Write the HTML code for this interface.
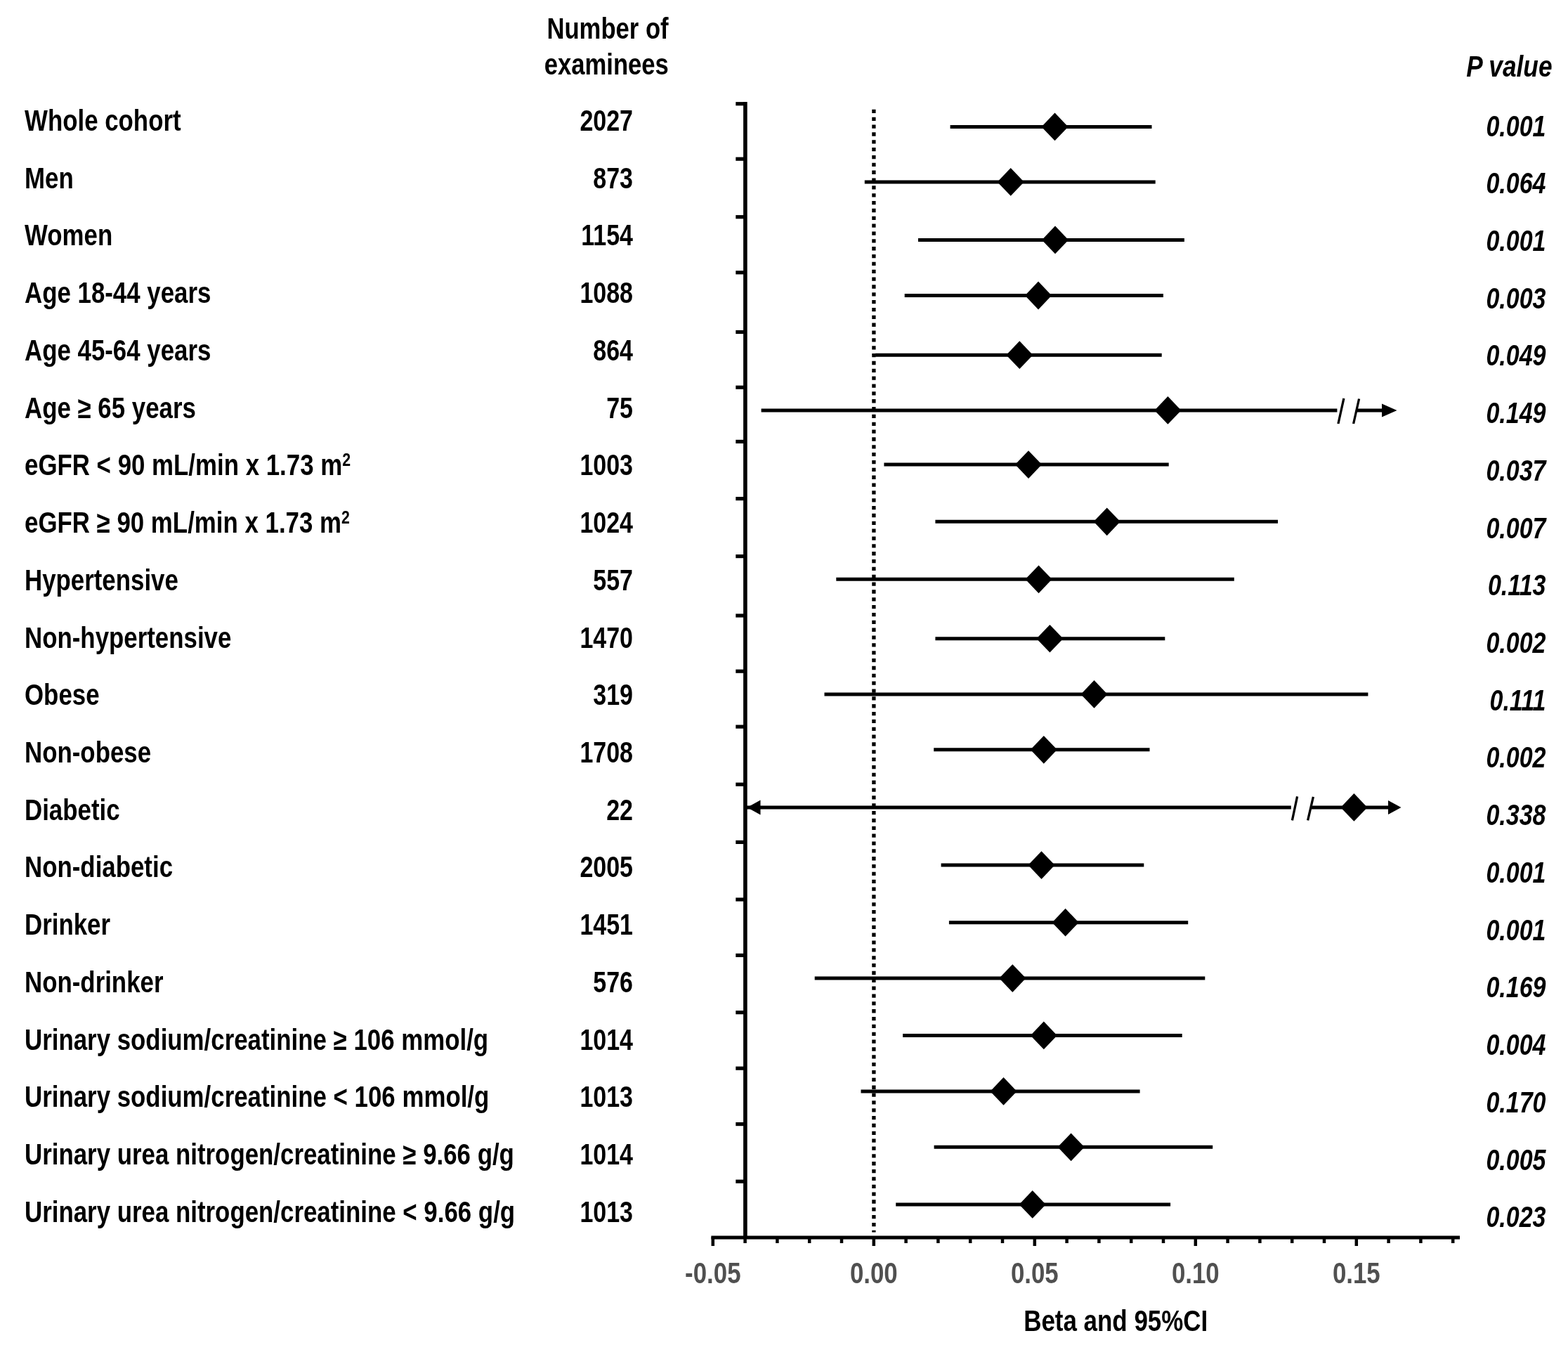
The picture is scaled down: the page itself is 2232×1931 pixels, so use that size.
<!DOCTYPE html><html><head><meta charset="utf-8"><style>html,body{margin:0;padding:0;background:#fff;}svg{display:block}</style></head><body>
<svg width="2232" height="1931" viewBox="0 0 2232 1931">
<rect width="2232" height="1931" fill="#fff"/>
<g font-family="Liberation Sans, Arial, sans-serif" font-weight="bold" font-size="42.5" fill="#000">
<text text-anchor="middle" transform="translate(865,54.5) scale(0.815,1)">Number of</text>
<text text-anchor="middle" transform="translate(863.3,106) scale(0.815,1)">examinees</text>
<text text-anchor="end" font-style="italic" transform="translate(2209.5,109) scale(0.83,1)">P value</text>
<text transform="translate(35.0,186.0) scale(0.82,1)">Whole cohort</text>
<text text-anchor="end" transform="translate(901.0,186.0) scale(0.8,1)">2027</text>
<text text-anchor="end" font-style="italic" transform="translate(2200.5,193.5) scale(0.8,1)">0.001</text>
<text transform="translate(35.0,267.7) scale(0.82,1)">Men</text>
<text text-anchor="end" transform="translate(901.0,267.7) scale(0.8,1)">873</text>
<text text-anchor="end" font-style="italic" transform="translate(2200.5,275.2) scale(0.8,1)">0.064</text>
<text transform="translate(35.0,349.4) scale(0.82,1)">Women</text>
<text text-anchor="end" transform="translate(901.0,349.4) scale(0.8,1)">1154</text>
<text text-anchor="end" font-style="italic" transform="translate(2200.5,356.9) scale(0.8,1)">0.001</text>
<text transform="translate(35.0,431.2) scale(0.82,1)">Age 18-44 years</text>
<text text-anchor="end" transform="translate(901.0,431.2) scale(0.8,1)">1088</text>
<text text-anchor="end" font-style="italic" transform="translate(2200.5,438.7) scale(0.8,1)">0.003</text>
<text transform="translate(35.0,512.9) scale(0.82,1)">Age 45-64 years</text>
<text text-anchor="end" transform="translate(901.0,512.9) scale(0.8,1)">864</text>
<text text-anchor="end" font-style="italic" transform="translate(2200.5,520.4) scale(0.8,1)">0.049</text>
<text transform="translate(35.0,594.6) scale(0.82,1)">Age ≥ 65 years</text>
<text text-anchor="end" transform="translate(901.0,594.6) scale(0.8,1)">75</text>
<text text-anchor="end" font-style="italic" transform="translate(2200.5,602.1) scale(0.8,1)">0.149</text>
<text transform="translate(35.0,676.3) scale(0.82,1)">eGFR < 90 mL/min x 1.73 m<tspan dy='-13' font-size='26'>2</tspan></text>
<text text-anchor="end" transform="translate(901.0,676.3) scale(0.8,1)">1003</text>
<text text-anchor="end" font-style="italic" transform="translate(2200.5,683.8) scale(0.8,1)">0.037</text>
<text transform="translate(35.0,758.0) scale(0.82,1)">eGFR ≥ 90 mL/min x 1.73 m<tspan dy='-13' font-size='26'>2</tspan></text>
<text text-anchor="end" transform="translate(901.0,758.0) scale(0.8,1)">1024</text>
<text text-anchor="end" font-style="italic" transform="translate(2200.5,765.5) scale(0.8,1)">0.007</text>
<text transform="translate(35.0,839.8) scale(0.82,1)">Hypertensive</text>
<text text-anchor="end" transform="translate(901.0,839.8) scale(0.8,1)">557</text>
<text text-anchor="end" font-style="italic" transform="translate(2200.5,847.3) scale(0.8,1)">0.113</text>
<text transform="translate(35.0,921.5) scale(0.82,1)">Non-hypertensive</text>
<text text-anchor="end" transform="translate(901.0,921.5) scale(0.8,1)">1470</text>
<text text-anchor="end" font-style="italic" transform="translate(2200.5,929.0) scale(0.8,1)">0.002</text>
<text transform="translate(35.0,1003.2) scale(0.82,1)">Obese</text>
<text text-anchor="end" transform="translate(901.0,1003.2) scale(0.8,1)">319</text>
<text text-anchor="end" font-style="italic" transform="translate(2200.5,1010.7) scale(0.8,1)">0.111</text>
<text transform="translate(35.0,1084.9) scale(0.82,1)">Non-obese</text>
<text text-anchor="end" transform="translate(901.0,1084.9) scale(0.8,1)">1708</text>
<text text-anchor="end" font-style="italic" transform="translate(2200.5,1092.4) scale(0.8,1)">0.002</text>
<text transform="translate(35.0,1166.6) scale(0.82,1)">Diabetic</text>
<text text-anchor="end" transform="translate(901.0,1166.6) scale(0.8,1)">22</text>
<text text-anchor="end" font-style="italic" transform="translate(2200.5,1174.1) scale(0.8,1)">0.338</text>
<text transform="translate(35.0,1248.4) scale(0.82,1)">Non-diabetic</text>
<text text-anchor="end" transform="translate(901.0,1248.4) scale(0.8,1)">2005</text>
<text text-anchor="end" font-style="italic" transform="translate(2200.5,1255.9) scale(0.8,1)">0.001</text>
<text transform="translate(35.0,1330.1) scale(0.82,1)">Drinker</text>
<text text-anchor="end" transform="translate(901.0,1330.1) scale(0.8,1)">1451</text>
<text text-anchor="end" font-style="italic" transform="translate(2200.5,1337.6) scale(0.8,1)">0.001</text>
<text transform="translate(35.0,1411.8) scale(0.82,1)">Non-drinker</text>
<text text-anchor="end" transform="translate(901.0,1411.8) scale(0.8,1)">576</text>
<text text-anchor="end" font-style="italic" transform="translate(2200.5,1419.3) scale(0.8,1)">0.169</text>
<text transform="translate(35.0,1493.5) scale(0.82,1)">Urinary sodium/creatinine ≥ 106 mmol/g</text>
<text text-anchor="end" transform="translate(901.0,1493.5) scale(0.8,1)">1014</text>
<text text-anchor="end" font-style="italic" transform="translate(2200.5,1501.0) scale(0.8,1)">0.004</text>
<text transform="translate(35.0,1575.2) scale(0.82,1)">Urinary sodium/creatinine &lt; 106 mmol/g</text>
<text text-anchor="end" transform="translate(901.0,1575.2) scale(0.8,1)">1013</text>
<text text-anchor="end" font-style="italic" transform="translate(2200.5,1582.7) scale(0.8,1)">0.170</text>
<text transform="translate(35.0,1657.0) scale(0.82,1)">Urinary urea nitrogen/creatinine ≥ 9.66 g/g</text>
<text text-anchor="end" transform="translate(901.0,1657.0) scale(0.8,1)">1014</text>
<text text-anchor="end" font-style="italic" transform="translate(2200.5,1664.5) scale(0.8,1)">0.005</text>
<text transform="translate(35.0,1738.7) scale(0.82,1)">Urinary urea nitrogen/creatinine &lt; 9.66 g/g</text>
<text text-anchor="end" transform="translate(901.0,1738.7) scale(0.8,1)">1013</text>
<text text-anchor="end" font-style="italic" transform="translate(2200.5,1746.2) scale(0.8,1)">0.023</text>
<text text-anchor="middle" fill="#505050" transform="translate(1014.8,1826) scale(0.82,1)">-0.05</text>
<text text-anchor="middle" fill="#505050" transform="translate(1243.8,1826) scale(0.82,1)">0.00</text>
<text text-anchor="middle" fill="#505050" transform="translate(1472.8,1826) scale(0.82,1)">0.05</text>
<text text-anchor="middle" fill="#505050" transform="translate(1701.8,1826) scale(0.82,1)">0.10</text>
<text text-anchor="middle" fill="#505050" transform="translate(1930.8,1826) scale(0.82,1)">0.15</text>
<text text-anchor="middle" transform="translate(1588.2,1894) scale(0.822,1)">Beta and 95%CI</text>
</g>
<g stroke="#000" stroke-width="5" fill="none">
<line x1="1060.9" y1="145" x2="1060.9" y2="1763" stroke-width="5.6"/>
<line x1="1012.4" y1="1761" x2="2078" y2="1761" stroke-width="5.1"/>
<line x1="1047.3" y1="147.7" x2="1061" y2="147.7" stroke-width="5.2"/>
<line x1="1047.3" y1="226.2" x2="1061" y2="226.2" stroke-width="5.2"/>
<line x1="1047.3" y1="308.7" x2="1061" y2="308.7" stroke-width="5.2"/>
<line x1="1047.3" y1="387.8" x2="1061" y2="387.8" stroke-width="5.2"/>
<line x1="1047.3" y1="472.5" x2="1061" y2="472.5" stroke-width="5.2"/>
<line x1="1047.3" y1="551.2" x2="1061" y2="551.2" stroke-width="5.2"/>
<line x1="1047.3" y1="628.4" x2="1061" y2="628.4" stroke-width="5.2"/>
<line x1="1047.3" y1="709.6" x2="1061" y2="709.6" stroke-width="5.2"/>
<line x1="1047.3" y1="791.6" x2="1061" y2="791.6" stroke-width="5.2"/>
<line x1="1047.3" y1="876.0" x2="1061" y2="876.0" stroke-width="5.2"/>
<line x1="1047.3" y1="955.2" x2="1061" y2="955.2" stroke-width="5.2"/>
<line x1="1047.3" y1="1034.1" x2="1061" y2="1034.1" stroke-width="5.2"/>
<line x1="1047.3" y1="1116.2" x2="1061" y2="1116.2" stroke-width="5.2"/>
<line x1="1047.3" y1="1198.4" x2="1061" y2="1198.4" stroke-width="5.2"/>
<line x1="1047.3" y1="1280.0" x2="1061" y2="1280.0" stroke-width="5.2"/>
<line x1="1047.3" y1="1359.4" x2="1061" y2="1359.4" stroke-width="5.2"/>
<line x1="1047.3" y1="1440.7" x2="1061" y2="1440.7" stroke-width="5.2"/>
<line x1="1047.3" y1="1520.2" x2="1061" y2="1520.2" stroke-width="5.2"/>
<line x1="1047.3" y1="1599.6" x2="1061" y2="1599.6" stroke-width="5.2"/>
<line x1="1047.3" y1="1681.2" x2="1061" y2="1681.2" stroke-width="5.2"/>
<line x1="1014.8" y1="1760" x2="1014.8" y2="1773" stroke-width="4.5"/>
<line x1="1060.6" y1="1760" x2="1060.6" y2="1769" stroke-width="4.5"/>
<line x1="1106.4" y1="1760" x2="1106.4" y2="1769" stroke-width="4.5"/>
<line x1="1152.2" y1="1760" x2="1152.2" y2="1769" stroke-width="4.5"/>
<line x1="1198.0" y1="1760" x2="1198.0" y2="1769" stroke-width="4.5"/>
<line x1="1243.8" y1="1760" x2="1243.8" y2="1773" stroke-width="4.5"/>
<line x1="1289.6" y1="1760" x2="1289.6" y2="1769" stroke-width="4.5"/>
<line x1="1335.4" y1="1760" x2="1335.4" y2="1769" stroke-width="4.5"/>
<line x1="1381.2" y1="1760" x2="1381.2" y2="1769" stroke-width="4.5"/>
<line x1="1427.0" y1="1760" x2="1427.0" y2="1769" stroke-width="4.5"/>
<line x1="1472.8" y1="1760" x2="1472.8" y2="1773" stroke-width="4.5"/>
<line x1="1518.6" y1="1760" x2="1518.6" y2="1769" stroke-width="4.5"/>
<line x1="1564.4" y1="1760" x2="1564.4" y2="1769" stroke-width="4.5"/>
<line x1="1610.2" y1="1760" x2="1610.2" y2="1769" stroke-width="4.5"/>
<line x1="1656.0" y1="1760" x2="1656.0" y2="1769" stroke-width="4.5"/>
<line x1="1701.8" y1="1760" x2="1701.8" y2="1773" stroke-width="4.5"/>
<line x1="1747.6" y1="1760" x2="1747.6" y2="1769" stroke-width="4.5"/>
<line x1="1793.4" y1="1760" x2="1793.4" y2="1769" stroke-width="4.5"/>
<line x1="1839.2" y1="1760" x2="1839.2" y2="1769" stroke-width="4.5"/>
<line x1="1885.0" y1="1760" x2="1885.0" y2="1769" stroke-width="4.5"/>
<line x1="1930.8" y1="1760" x2="1930.8" y2="1773" stroke-width="4.5"/>
<line x1="1976.6" y1="1760" x2="1976.6" y2="1769" stroke-width="4.5"/>
<line x1="2022.4" y1="1760" x2="2022.4" y2="1769" stroke-width="4.5"/>
<line x1="2068.2" y1="1760" x2="2068.2" y2="1769" stroke-width="4.5"/>
</g>
<line x1="1243.9" y1="155.8" x2="1243.9" y2="1753.5" stroke="#000" stroke-width="5.3" stroke-dasharray="5.3 5.55"/>
<g stroke="#000" stroke-width="5">
<line x1="1352.6" y1="180.4" x2="1639.5" y2="180.4"/>
<line x1="1230.8" y1="258.9" x2="1644.7" y2="258.9"/>
<line x1="1307.0" y1="341.4" x2="1685.9" y2="341.4"/>
<line x1="1287.7" y1="420.5" x2="1655.9" y2="420.5"/>
<line x1="1246.1" y1="505.2" x2="1653.7" y2="505.2"/>
<line x1="1258.4" y1="661.1" x2="1663.7" y2="661.1"/>
<line x1="1331.4" y1="742.3" x2="1819.0" y2="742.3"/>
<line x1="1190.3" y1="824.3" x2="1756.8" y2="824.3"/>
<line x1="1331.4" y1="908.8" x2="1658.3" y2="908.8"/>
<line x1="1173.5" y1="987.9" x2="1947.4" y2="987.9"/>
<line x1="1329.2" y1="1066.8" x2="1636.5" y2="1066.8"/>
<line x1="1339.6" y1="1231.1" x2="1628.3" y2="1231.1"/>
<line x1="1350.9" y1="1312.7" x2="1691.2" y2="1312.7"/>
<line x1="1159.7" y1="1392.1" x2="1715.3" y2="1392.1"/>
<line x1="1285.1" y1="1473.4" x2="1682.7" y2="1473.4"/>
<line x1="1225.5" y1="1552.9" x2="1622.6" y2="1552.9"/>
<line x1="1329.6" y1="1632.3" x2="1726.2" y2="1632.3"/>
<line x1="1275.2" y1="1713.9" x2="1666.1" y2="1713.9"/>
</g>
<line x1="1083.6" y1="583.9" x2="1903.4" y2="583.9" stroke="#000" stroke-width="5"/>
<line x1="1931" y1="583.9" x2="1970" y2="583.9" stroke="#000" stroke-width="5"/>
<path d="M1904.9 603 L1912.9 566.8 M1926.6 603 L1934.6 567.5" stroke="#000" stroke-width="3.3" fill="none"/>
<path d="M1967 574.4 L1988.5 583.9 L1967 593.4 Z" fill="#000"/>
<line x1="1063" y1="1148.9" x2="1837.8" y2="1148.9" stroke="#000" stroke-width="5"/>
<line x1="1866.6" y1="1148.9" x2="1978" y2="1148.9" stroke="#000" stroke-width="5"/>
<path d="M1063.5 1148.9 L1082.5 1138.4 L1082.5 1159.4 Z" fill="#000"/>
<path d="M1976 1138.9 L1994.5 1148.9 L1976 1158.9 Z" fill="#000"/>
<path d="M1839.4 1167.4 L1846.6 1133.4 M1861.6 1167.4 L1869.4 1133.9" stroke="#000" stroke-width="3.3" fill="none"/>
<g fill="#000">
<path d="M1501.5 160.5 L1520.5 180.4 L1501.5 200.3 L1482.5 180.4 Z"/>
<path d="M1438.7 239.0 L1457.7 258.9 L1438.7 278.8 L1419.7 258.9 Z"/>
<path d="M1502.0 321.5 L1521.0 341.4 L1502.0 361.3 L1483.0 341.4 Z"/>
<path d="M1478.0 400.6 L1497.0 420.5 L1478.0 440.4 L1459.0 420.5 Z"/>
<path d="M1451.3 485.3 L1470.3 505.2 L1451.3 525.1 L1432.3 505.2 Z"/>
<path d="M1662.4 564.0 L1681.4 583.9 L1662.4 603.8 L1643.4 583.9 Z"/>
<path d="M1464.0 641.2 L1483.0 661.1 L1464.0 681.0 L1445.0 661.1 Z"/>
<path d="M1575.7 722.4 L1594.7 742.3 L1575.7 762.2 L1556.7 742.3 Z"/>
<path d="M1478.5 804.4 L1497.5 824.3 L1478.5 844.2 L1459.5 824.3 Z"/>
<path d="M1494.4 888.9 L1513.4 908.8 L1494.4 928.6 L1475.4 908.8 Z"/>
<path d="M1557.5 968.0 L1576.5 987.9 L1557.5 1007.8 L1538.5 987.9 Z"/>
<path d="M1485.8 1046.9 L1504.8 1066.8 L1485.8 1086.7 L1466.8 1066.8 Z"/>
<path d="M1927.4 1129.0 L1946.4 1148.9 L1927.4 1168.8 L1908.4 1148.9 Z"/>
<path d="M1482.5 1211.2 L1501.5 1231.1 L1482.5 1251.0 L1463.5 1231.1 Z"/>
<path d="M1516.6 1292.8 L1535.6 1312.7 L1516.6 1332.6 L1497.6 1312.7 Z"/>
<path d="M1441.3 1372.2 L1460.3 1392.1 L1441.3 1412.0 L1422.3 1392.1 Z"/>
<path d="M1485.8 1453.5 L1504.8 1473.4 L1485.8 1493.3 L1466.8 1473.4 Z"/>
<path d="M1428.5 1533.0 L1447.5 1552.9 L1428.5 1572.8 L1409.5 1552.9 Z"/>
<path d="M1524.6 1612.4 L1543.6 1632.3 L1524.6 1652.2 L1505.6 1632.3 Z"/>
<path d="M1469.7 1694.0 L1488.7 1713.9 L1469.7 1733.8 L1450.7 1713.9 Z"/>
</g>
</svg></body></html>
